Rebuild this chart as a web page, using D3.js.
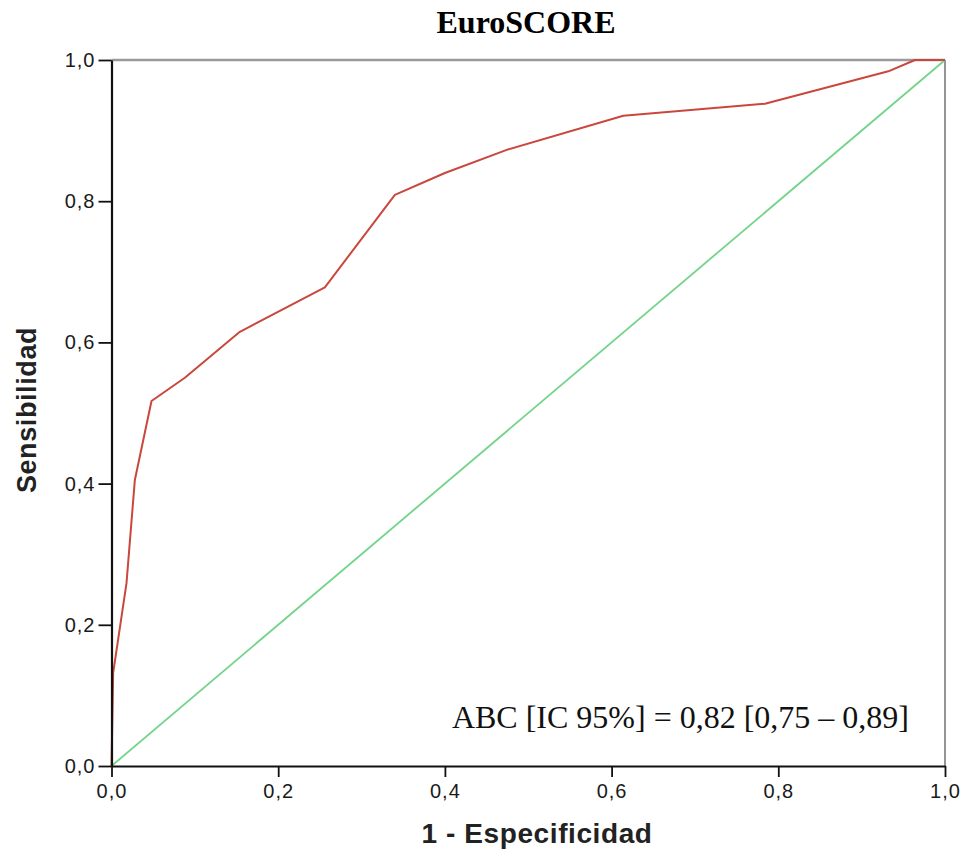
<!DOCTYPE html>
<html>
<head>
<meta charset="utf-8">
<script src="https://cdn.jsdelivr.net/npm/d3@7"></script>
<style>
  html, body { margin: 0; padding: 0; background: #fff; }
  svg { display: block; }
</style>
</head>
<body>
<script>
// ROC curve for EuroSCORE
const fpr = [0, 0.002, 0.018, 0.028, 0.048, 0.088, 0.154, 0.256, 0.340, 0.400, 0.475, 0.614, 0.784, 0.932, 0.964, 1.0];
const tpr = [0, 0.132, 0.259, 0.405, 0.517, 0.550, 0.615, 0.678, 0.809, 0.840, 0.873, 0.921, 0.938, 0.984, 1.0, 1.0];
const refLine = [0, 1];
const tickValues = [0, 0.2, 0.4, 0.6, 0.8, 1.0];
const titleText = "EuroSCORE";
const xTitle = "1 - Especificidad";
const yTitle = "Sensibilidad";
const aucText = "ABC [IC 95%] = 0,82 [0,75 – 0,89]";

const W = 964, H = 854;
const m = { left: 111.5, right: 19, top: 60, bottom: 88 };

const svg = d3.select("body").append("svg").attr("width", W).attr("height", H);

const x = d3.scaleLinear().domain([0, 1]).range([m.left, W - m.right]);
const y = d3.scaleLinear().domain([0, 1]).range([H - m.bottom, m.top]);

const fmt = d => d3.format(".1f")(d).replace(".", ",");
const sans = "'Liberation Sans', Arial, sans-serif";
const serif = "'Liberation Serif', 'Times New Roman', serif";

// frame: top and right edges in grey
svg.append("line").attr("x1", x(0)).attr("x2", x(1)).attr("y1", y(1)).attr("y2", y(1))
  .attr("stroke", "#9a9a9a").attr("stroke-width", 2.4);
svg.append("line").attr("x1", x(1)).attr("x2", x(1)).attr("y1", y(1)).attr("y2", y(0))
  .attr("stroke", "#8a8a8a").attr("stroke-width", 1.8);

// reference diagonal
svg.append("line")
  .attr("x1", x(refLine[0])).attr("y1", y(refLine[0]))
  .attr("x2", x(refLine[1])).attr("y2", y(refLine[1]))
  .attr("stroke", "#72d48a").attr("stroke-width", 1.8);

// ROC curve
const pts = fpr.map((v, i) => [v, tpr[i]]);
svg.append("path").datum(pts)
  .attr("fill", "none")
  .attr("stroke", "#c9473d")
  .attr("stroke-width", 2)
  .attr("stroke-linejoin", "round")
  .attr("d", d3.line().x(d => x(d[0])).y(d => y(d[1])));

// axes
const xAxis = d3.axisBottom(x).tickValues(tickValues).tickFormat(fmt).tickSize(11).tickSizeOuter(0);
const yAxis = d3.axisLeft(y).tickValues(tickValues).tickFormat(fmt).tickSize(13).tickSizeOuter(0);

const gx = svg.append("g").attr("transform", `translate(0,${y(0)})`).call(xAxis);
const gy = svg.append("g").attr("transform", `translate(${x(0)},0)`).call(yAxis);

[gx, gy].forEach(g => {
  g.attr("font-size", null).attr("font-family", null);
  g.select(".domain").attr("stroke", "#111").attr("stroke-width", 2.2);
  g.selectAll(".tick line").attr("stroke", "#111").attr("stroke-width", 1.8);
  g.selectAll(".tick text")
    .style("font-family", sans)
    .style("font-size", "20px")
    .style("letter-spacing", "1px")
    .attr("fill", "#1a1a1a");
});
gx.selectAll(".tick text").attr("y", 18).attr("dy", "0.71em");
gy.selectAll(".tick text").attr("x", -16);

// title
svg.append("text")
  .attr("x", 526).attr("y", 33)
  .attr("text-anchor", "middle")
  .style("font-family", serif)
  .style("font-weight", "bold").style("font-size", "32px")
  .text(titleText);

// axis titles
svg.append("text")
  .attr("x", 537).attr("y", 843)
  .attr("text-anchor", "middle")
  .style("font-family", sans)
  .style("font-weight", "bold").style("font-size", "28px")
  .style("letter-spacing", "0.6px")
  .attr("fill", "#222")
  .text(xTitle);

svg.append("text")
  .attr("transform", `translate(36,${410}) rotate(-90)`)
  .attr("text-anchor", "middle")
  .style("font-family", sans)
  .style("font-weight", "bold").style("font-size", "27px")
  .style("letter-spacing", "0.6px")
  .attr("fill", "#222")
  .text(yTitle);

// AUC annotation
svg.append("text")
  .attr("x", 909).attr("y", 728)
  .attr("text-anchor", "end")
  .style("font-family", serif)
  .style("font-size", "32px")
  .attr("fill", "#111")
  .text(aucText);
</script>
</body>
</html>
